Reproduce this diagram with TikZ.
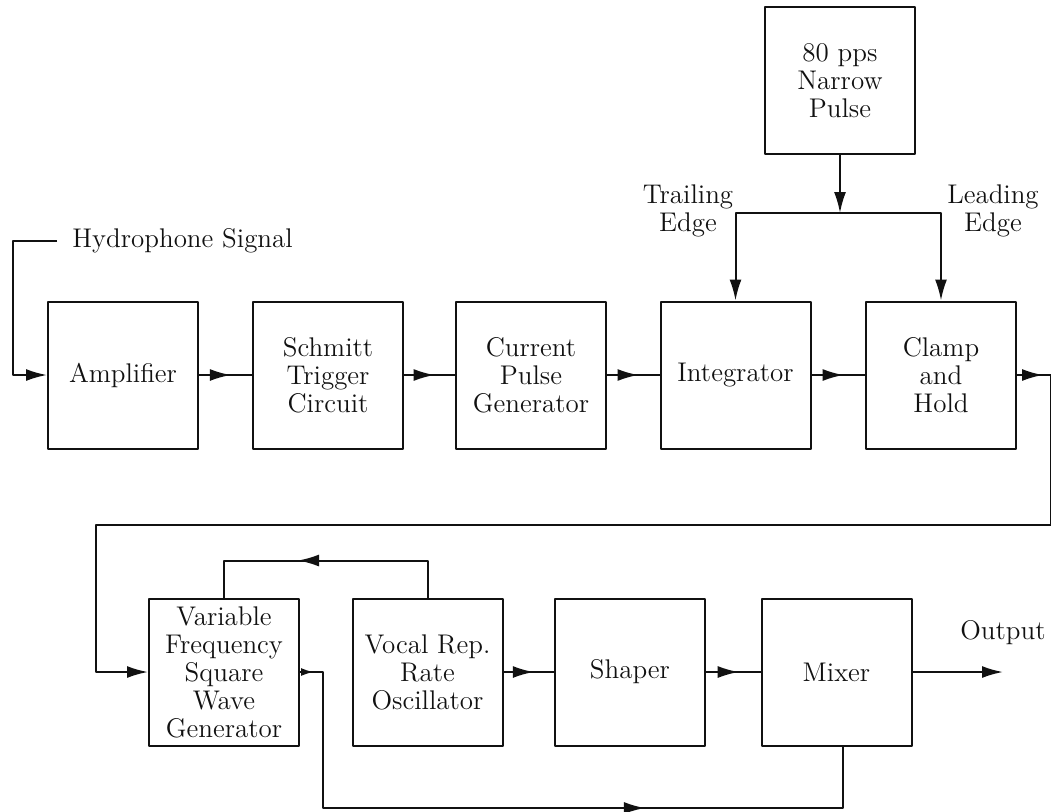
\documentclass[tikz,border=0pt]{standalone}
\usepackage{tikz}
\usetikzlibrary{arrows.meta,calc,decorations.markings}
\definecolor{ink}{HTML}{111111}
\tikzset{fig/.style={line join=round,>=Stealth},
  blk/.style={draw=ink,line width=1pt,minimum width=75pt,minimum height=73.5pt,inner sep=0pt,align=center,
    font=\fontsize{13.5}{14}\selectfont,text=ink},
  txt/.style={inner sep=0pt,align=center,font=\fontsize{13.5}{14}\selectfont,text=ink},
  wire/.style={draw=ink,line width=1pt},
  tip/.style={-{Latex[length=10.5pt,width=6pt]}},
  arrowat/.style={postaction={decorate,decoration={markings,mark=at position #1 with {\arrow{Latex[length=10.5pt,width=6pt]}}}}},
  arrowsm/.style={postaction={decorate,decoration={markings,mark=at position #1 with {\arrow{Latex[length=6.5pt,width=4pt]}}}}}}
\begin{document}
\begin{tikzpicture}[fig,x=0.5pt,y=-0.5pt]
  \useasboundingbox (0,0) rectangle (1051,811);
  % top row
  \node[blk] (pulse) at (840,80.5) {80 pps\\Narrow\\Pulse};
  \node[blk] (amp) at (123,375) {Amplifier};
  \node[blk] (schmitt) at (328,375) {Schmitt\\Trigger\\Circuit};
  \node[blk] (current) at (531,375) {Current\\Pulse\\Generator};
  \node[blk] (integ) at (735.5,375) {Integrator};
  \node[blk] (clamp) at (941,375) {Clamp\\and\\Hold};
  % bottom row
  \node[blk] (vfsw) at (224,672) {Variable\\Frequency\\Square\\Wave\\Generator};
  \node[blk] (vocal) at (427.5,672) {Vocal Rep.\\Rate\\Oscillator};
  \node[blk] (shaper) at (630,672) {Shaper};
  \node[blk] (mixer) at (836.5,672) {Mixer};
  % labels
  \node[txt,anchor=west] (hydro) at (72,241) {Hydrophone Signal};
  \node[txt] (trail) at (688,211) {Trailing\\Edge};
  \node[txt] (lead) at (993,211) {Leading\\Edge};
  \node[txt] (outlbl) at (1003,633) {Output};
  \coordinate (hin) at (57,241);
  \coordinate (split) at (840,213);
  \coordinate (out) at (1003,672);
  % connectors
  \draw[wire,tip] (hin) -- ++(-44,0) |- (amp.west);
  \draw[wire,arrowat=0.6] (amp) -- (schmitt);
  \draw[wire,arrowat=0.6] (schmitt) -- (current);
  \draw[wire,arrowat=0.6] (current) -- (integ);
  \draw[wire,arrowat=0.6] (integ) -- (clamp);
  \draw[wire,tip] (pulse.south) -- (split);
  \draw[wire,tip] (split) -| (integ.north);
  \draw[wire,tip] (split) -| (clamp.north);
  \draw[wire,tip,arrowat=13pt] (clamp.east) -- ++(34,0) |- ($(vfsw.west)+(-52,-147)$) |- (vfsw.west);
  \draw[wire,arrowat=0.6] (vocal.north) |- ($(vfsw.north)+(0,-37)$) -- (vfsw.north);
  \draw[wire,arrowsm=7pt,arrowat=0.65] (vfsw.east) -- ++(23,0) -- ++(0,136) -| ($(mixer.south)+(6,0)$);
  \draw[wire,arrowat=0.6] (vocal) -- (shaper);
  \draw[wire,arrowat=0.6] (shaper) -- (mixer);
  \draw[wire,tip] (mixer.east) -- (out);
\end{tikzpicture}
\end{document}
